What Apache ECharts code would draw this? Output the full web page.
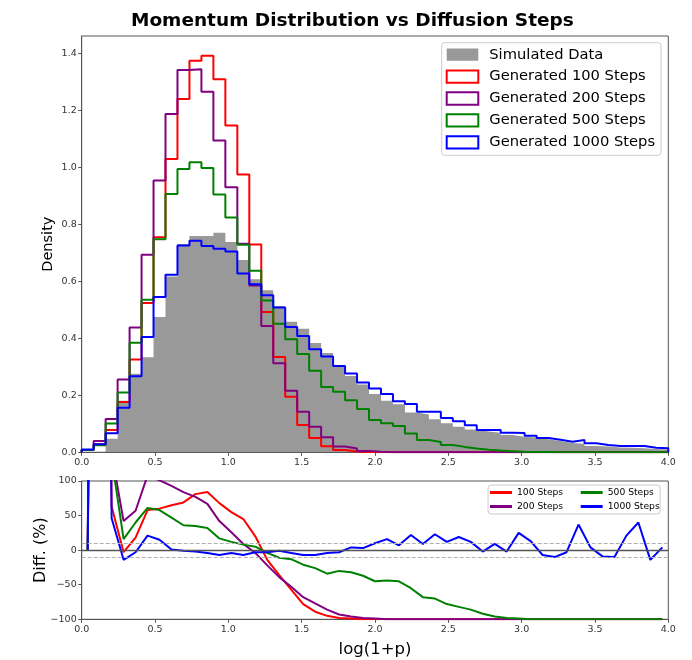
<!DOCTYPE html>
<html><head><meta charset="utf-8">
<script src="https://cdn.jsdelivr.net/npm/echarts@6/dist/echarts.min.js"></script>
<style>html,body{margin:0;padding:0;background:#fff}#c{width:692px;height:660px}</style>
</head><body><div id="c"></div>
<script>
// ---- data ----
const BIN_START = 0, BIN_END = 4, N_BINS = 49;
const SIM_DATA = [0, 0.002, 0.048, 0.181, 0.276, 0.334, 0.475, 0.617, 0.731, 0.759,
  0.759, 0.771, 0.738, 0.675, 0.608, 0.569, 0.514, 0.458, 0.434, 0.384,
  0.349, 0.302, 0.268, 0.238, 0.205, 0.181, 0.169, 0.140, 0.133, 0.116,
  0.102, 0.090, 0.080, 0.073, 0.069, 0.061, 0.055, 0.052, 0.046, 0.040,
  0.033, 0.030, 0.022, 0.020, 0.017, 0.016, 0.014, 0.012, 0.010];
const GEN_100 = [0.008, 0.028, 0.078, 0.177, 0.326, 0.524, 0.755, 1.030, 1.240, 1.375,
  1.392, 1.310, 1.147, 0.975, 0.730, 0.493, 0.335, 0.195, 0.096, 0.050,
  0.021, 0.008, 0.003, 0.001, 0, 0, 0, 0, 0, 0,
  0, 0, 0, 0, 0, 0, 0, 0, 0, 0,
  0, 0, 0, 0, 0, 0, 0, 0, 0];
const GEN_200 = [0.008, 0.040, 0.117, 0.256, 0.438, 0.694, 0.954, 1.188, 1.342, 1.345,
  1.266, 1.095, 0.931, 0.732, 0.586, 0.443, 0.313, 0.216, 0.142, 0.090,
  0.053, 0.020, 0.013, 0.005, 0.002, 0, 0, 0, 0, 0,
  0, 0, 0, 0, 0, 0, 0, 0, 0, 0,
  0, 0, 0, 0, 0, 0, 0, 0, 0];
const GEN_500 = [0.008, 0.025, 0.101, 0.210, 0.385, 0.536, 0.748, 0.907, 0.995, 1.018,
  0.998, 0.905, 0.824, 0.729, 0.637, 0.533, 0.451, 0.397, 0.345, 0.286,
  0.229, 0.213, 0.183, 0.152, 0.113, 0.102, 0.092, 0.066, 0.043, 0.036,
  0.026, 0.019, 0.013, 0.009, 0.006, 0.004, 0.002, 0.001, 0.001, 0,
  0, 0, 0, 0, 0, 0, 0, 0, 0];
const GEN_1000 = [0.010, 0.028, 0.067, 0.156, 0.267, 0.405, 0.545, 0.623, 0.726, 0.743,
  0.724, 0.715, 0.705, 0.628, 0.590, 0.551, 0.508, 0.440, 0.408, 0.362,
  0.336, 0.303, 0.277, 0.245, 0.224, 0.205, 0.179, 0.170, 0.142, 0.142,
  0.120, 0.109, 0.095, 0.078, 0.078, 0.069, 0.068, 0.058, 0.050, 0.044,
  0.037, 0.043, 0.032, 0.026, 0.022, 0.022, 0.022, 0.016, 0.014];

const DIFF_100 = [0, 1500, 63, -3, 18, 58, 60, 65, 69, 81,
  84, 68, 55, 45, 20, -14, -36, -57, -78, -89,
  -95, -98, -99, -100, -100, -100, -100, -100, -100, -100,
  -100, -100, -100, -100, -100, -100, -100, -100, -100, -100,
  -100, -100, -100, -100, -100, -100, -100, -100, -100];
const DIFF_200 = [0, 2500, 140, 42, 57, 108, 101, 93, 84, 77,
  67, 42, 26, 9, -4, -22, -39, -53, -68, -77,
  -86, -93, -96, -98, -99, -100, -100, -100, -100, -100,
  -100, -100, -100, -100, -100, -100, -100, -100, -100, -100,
  -100, -100, -100, -100, -100, -100, -100, -100, -100];
const DIFF_500 = [0, 1800, 133, 16, 40, 61, 58, 47, 36, 35,
  32, 17, 12, 8, 5, -4, -11, -13, -21, -26,
  -34, -30, -32, -37, -45, -44, -45, -55, -68, -70,
  -78, -82, -86, -92, -96, -98, -99, -100, -100, -100,
  -100, -100, -100, -100, -100, -100, -100, -100, -100];
const DIFF_1000 = [0, 2000, 46, -14, -3, 21, 15, 1, -1, -2,
  -4, -7, -4, -7, -3, -3, -1, -4, -7, -7,
  -4, -3, 4, 3, 10, 16, 7, 22, 9, 23,
  12, 19, 12, -2, 9, -2, 25, 13, -7, -10,
  -3, 37, 4, -9, -10, 21, 40, -14, 4];

const X_TICKS = [0, 0.5, 1.0, 1.5, 2.0, 2.5, 3.0, 3.5, 4.0];
const Y_TICKS_TOP = [0, 0.2, 0.4, 0.6, 0.8, 1.0, 1.2, 1.4];
const Y_TICKS_DIFF = [-100, -50, 0, 50, 100];
const HIST_NAMES = ['Simulated Data', 'Generated 100 Steps', 'Generated 200 Steps', 'Generated 500 Steps', 'Generated 1000 Steps'];
const DIFF_NAMES = ['100 Steps', '200 Steps', '500 Steps', '1000 Steps'];
const COLORS = ['#ff0000', '#800080', '#008000', '#0000ff'];

// ---- build ----
const edges = Array.from({length: N_BINS + 1}, (_, i) => BIN_START + i * (BIN_END - BIN_START) / N_BINS);
const centers = edges.slice(0, -1).map((e, i) => (e + edges[i + 1]) / 2);
function stepPts(vals) {
  const p = [[edges[0], 0]];
  vals.forEach((v, i) => { p.push([edges[i], v]); p.push([edges[i + 1], v]); });
  p.push([edges[N_BINS], 0]);
  return p;
}
function linePts(vals) { return vals.map((v, i) => [centers[i], v]); }

const FONT = 'DejaVu Sans';
const SPINE = '#555';
const minus = v => String(v).replace('-', '\u2212');
const LINE_ICON = 'path://M0,0 L22,0 L22,0.01 Z M0,3.6 L22,3.6 L22,6.4 L0,6.4 Z M0,10 L22,10 L22,10.01 Z';

const chart = echarts.init(document.getElementById('c'), null, {renderer: 'canvas'});

const gridStyle = {show: true, borderColor: SPINE, borderWidth: 1, backgroundColor: 'transparent'};
function xAxisDef(idx, name) {
  return {
    type: 'value', gridIndex: idx, min: BIN_START, max: BIN_END,
    name: name || '', nameLocation: 'middle', nameGap: 22, nameMoveOverlap: false,
    nameTextStyle: {fontFamily: FONT, fontSize: 16.5, color: '#000'},
    axisLine: {show: true, onZero: false, lineStyle: {color: SPINE, width: 1}},
    axisTick: {show: true, length: 3.5, lineStyle: {color: SPINE}, customValues: X_TICKS},
    axisLabel: {fontFamily: FONT, fontSize: 9.5, color: '#333', margin: 5,
      customValues: X_TICKS, formatter: v => v.toFixed(1)},
    splitLine: {show: false}
  };
}

const series = [];
series.push({
  name: HIST_NAMES[0], type: 'line', xAxisIndex: 0, yAxisIndex: 0,
  data: stepPts(SIM_DATA), showSymbol: false, symbol: 'none',
  lineStyle: {width: 0, color: '#999'}, itemStyle: {color: '#999'},
  areaStyle: {color: '#999', opacity: 1}, silent: true
});
[GEN_100, GEN_200, GEN_500, GEN_1000].forEach((vals, i) => {
  series.push({
    name: HIST_NAMES[i + 1], type: 'line', xAxisIndex: 0, yAxisIndex: 0,
    data: stepPts(vals), showSymbol: false, symbol: 'none',
    lineStyle: {width: 2, color: COLORS[i]}, itemStyle: {color: COLORS[i]}, silent: true
  });
});
series.push({
  type: 'line', xAxisIndex: 1, yAxisIndex: 1, data: [], silent: true,
  markLine: {silent: true, symbol: 'none', label: {show: false}, animation: false,
    data: [
      {yAxis: 10, lineStyle: {color: '#b0b0b0', width: 1, type: [4, 2]}},
      {yAxis: -10, lineStyle: {color: '#b0b0b0', width: 1, type: [4, 2]}},
      {yAxis: 0, lineStyle: {color: '#555', width: 1.4, type: 'solid'}}
    ]}
});
[DIFF_100, DIFF_200, DIFF_500, DIFF_1000].forEach((vals, i) => {
  series.push({
    name: DIFF_NAMES[i], type: 'line', xAxisIndex: 1, yAxisIndex: 1,
    data: linePts(vals), showSymbol: false, symbol: 'none', clip: true,
    lineStyle: {width: 2, color: COLORS[i]}, itemStyle: {color: COLORS[i]}, silent: true
  });
});

const diffLegendItem = i => ({name: DIFF_NAMES[i], icon: LINE_ICON, itemStyle: {color: COLORS[i], borderWidth: 0}});

const option = {
  animation: false,
  backgroundColor: '#fff',
  title: {text: 'Momentum Distribution vs Diffusion Steps', left: 126, top: 7,
    textStyle: {fontFamily: FONT, fontSize: 18.5, fontWeight: 'bold', color: '#000'}},
  grid: [
    Object.assign({left: 81.7, top: 36, width: 586.6, height: 416.3}, gridStyle),
    Object.assign({left: 81.7, top: 481, width: 586.6, height: 138.3}, gridStyle)
  ],
  xAxis: [xAxisDef(0), xAxisDef(1, 'log(1+p)')],
  yAxis: [
    {type: 'value', gridIndex: 0, min: 0, max: 1.4616,
      name: 'Density', nameLocation: 'middle', nameGap: 26, nameMoveOverlap: false,
      nameTextStyle: {fontFamily: FONT, fontSize: 14.5, color: '#000'},
      axisLine: {show: true, lineStyle: {color: SPINE}},
      axisTick: {show: true, length: 3.5, lineStyle: {color: SPINE}, customValues: Y_TICKS_TOP},
      axisLabel: {fontFamily: FONT, fontSize: 9.5, color: '#333', margin: 5,
        customValues: Y_TICKS_TOP, formatter: v => v.toFixed(1)},
      splitLine: {show: false}},
    {type: 'value', gridIndex: 1, min: -100, max: 100, interval: 50,
      name: 'Diff. (%)', nameLocation: 'middle', nameGap: 33, nameMoveOverlap: false,
      nameTextStyle: {fontFamily: FONT, fontSize: 16, color: '#000'},
      axisLine: {show: true, lineStyle: {color: SPINE}},
      axisTick: {show: true, length: 3.5, lineStyle: {color: SPINE}, customValues: Y_TICKS_DIFF},
      axisLabel: {fontFamily: FONT, fontSize: 9.5, color: '#333', margin: 5,
        customValues: Y_TICKS_DIFF, formatter: v => minus(v)},
      splitLine: {show: false}}
  ],
  legend: [
    {orient: 'vertical', left: 441.7, top: 42.7, padding: [4, 6, 5, 4],
      backgroundColor: 'rgba(255,255,255,0.85)', borderColor: '#cccccc', borderWidth: 1, borderRadius: 3,
      itemWidth: 31.6, itemHeight: 12.3, itemGap: 5.9,
      textStyle: {fontFamily: FONT, fontSize: 14.7, color: '#000', lineHeight: 16, padding: [0, 0, 0, 6]},
      data: [
        {name: HIST_NAMES[0], icon: 'rect', itemStyle: {color: '#999', borderWidth: 0}},
        ...[0, 1, 2, 3].map(i => ({name: HIST_NAMES[i + 1], icon: 'rect',
          itemStyle: {color: '#fff', borderColor: COLORS[i], borderWidth: 2}}))
      ]},
    {orient: 'vertical', left: 488, top: 485, padding: [2, 97, 2, 2],
      backgroundColor: 'rgba(255,255,255,0.85)', borderColor: '#cccccc', borderWidth: 1, borderRadius: 3,
      itemWidth: 22, itemHeight: 10, itemGap: 3,
      textStyle: {fontFamily: FONT, fontSize: 9.2, color: '#000', lineHeight: 11},
      data: [diffLegendItem(0), diffLegendItem(1)]},
    {orient: 'vertical', left: 580.7, top: 485, padding: [2, 2, 2, 0],
      itemWidth: 22, itemHeight: 10, itemGap: 3, z: 5,
      textStyle: {fontFamily: FONT, fontSize: 9.2, color: '#000', lineHeight: 11},
      data: [diffLegendItem(2), diffLegendItem(3)]}
  ],
  series: series
};
chart.setOption(option);
</script></body></html>
